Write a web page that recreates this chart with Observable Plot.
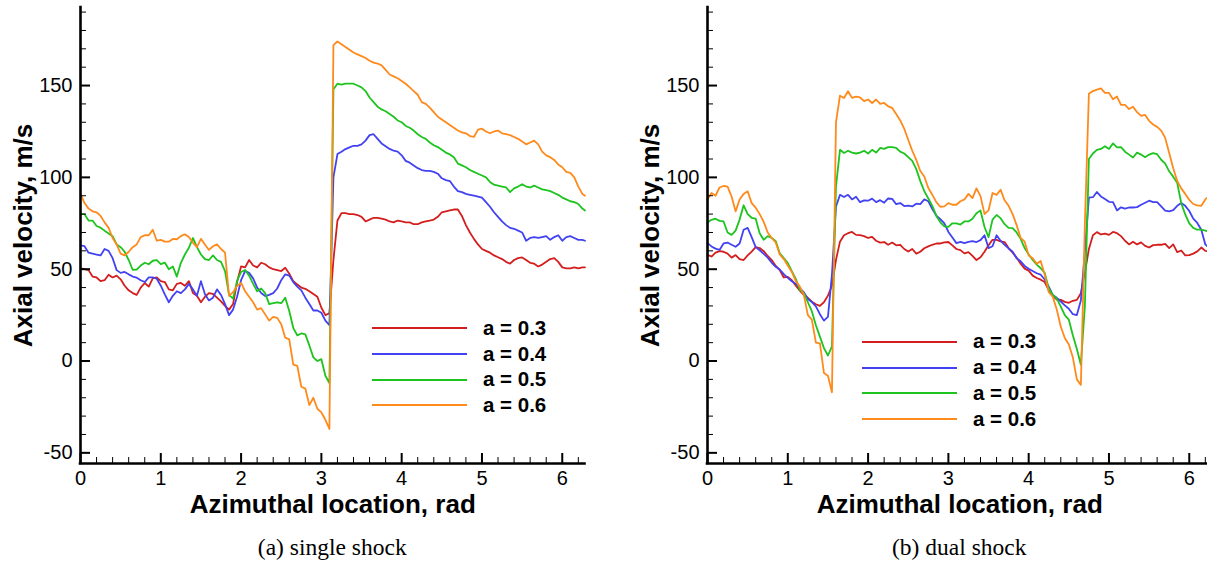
<!DOCTYPE html>
<html>
<head>
<meta charset="utf-8">
<script src="https://cdn.jsdelivr.net/npm/d3@7"></script>
<script src="https://cdn.jsdelivr.net/npm/@observablehq/plot@0.6"></script>
<style>
html, body { margin: 0; padding: 0; background: #fff; overflow: hidden; }
#wrap { position: relative; width: 1207px; height: 571px; overflow: hidden; background: #fff; }
.panel { position: absolute; top: 0; width: 600px; height: 571px; }
.panel svg { display: block; }
.leg-line { position: absolute; height: 0; }
.leg-text { position: absolute; font-family: "Liberation Sans", Arial, sans-serif; font-weight: bold; font-size: 20.5px; line-height: 1; white-space: nowrap; color: #000; }
.caption { position: absolute; font-family: "Liberation Serif", "Times New Roman", serif; font-size: 23.5px; line-height: 1; text-align: center; color: #000; white-space: nowrap; }
</style>
</head>
<body>
<div id="wrap"></div>
<script>
// ---------- data ----------
const seriesNames = ["a = 0.3", "a = 0.4", "a = 0.5", "a = 0.6"];
const seriesColors = ["#d41e1e", "#4242f2", "#1ec41e", "#ff8a1c"];
const panelCaptions = ["(a) single shock", "(b) dual shock"];
const xTitle = "Azimuthal location, rad";
const yTitle = "Axial velocity, m/s";

const xMajorTicks = [0, 1, 2, 3, 4, 5, 6];
const xMinorTicks = [0.2, 0.4, 0.6, 0.8, 1.2, 1.4, 1.6, 1.8, 2.2, 2.4, 2.6, 2.8, 3.2, 3.4, 3.6, 3.8, 4.2, 4.4, 4.6, 4.8, 5.2, 5.4, 5.6, 5.8, 6.2];
const yMajorTicks = [-50, 0, 50, 100, 150];
const yMinorTicks = [-40, -30, -20, -10, 10, 20, 30, 40, 60, 70, 80, 90, 110, 120, 130, 140, 160, 170, 180, 190];

const azimuth = [
  0, 0.05, 0.1, 0.15, 0.2, 0.25, 0.3, 0.35, 0.4, 0.45,
  0.5, 0.55, 0.6, 0.65, 0.7, 0.75, 0.8, 0.85, 0.9, 0.95,
  1, 1.05, 1.1, 1.15, 1.2, 1.25, 1.3, 1.35, 1.4, 1.45,
  1.5, 1.55, 1.6, 1.65, 1.7, 1.75, 1.8, 1.85, 1.9, 1.95,
  2, 2.05, 2.1, 2.15, 2.2, 2.25, 2.3, 2.35, 2.4, 2.45,
  2.5, 2.55, 2.6, 2.65, 2.7, 2.75, 2.8, 2.85, 2.9, 2.95,
  3, 3.05, 3.1, 3.15, 3.2, 3.25, 3.3, 3.35, 3.4, 3.45,
  3.5, 3.55, 3.6, 3.65, 3.7, 3.75, 3.8, 3.85, 3.9, 3.95,
  4, 4.05, 4.1, 4.15, 4.2, 4.25, 4.3, 4.35, 4.4, 4.45,
  4.5, 4.55, 4.6, 4.65, 4.7, 4.75, 4.8, 4.85, 4.9, 4.95,
  5, 5.05, 5.1, 5.15, 5.2, 5.25, 5.3, 5.35, 5.4, 5.45,
  5.5, 5.55, 5.6, 5.65, 5.7, 5.75, 5.8, 5.85, 5.9, 5.95,
  6, 6.05, 6.1, 6.15, 6.2, 6.25, 6.283
];

// (a) single shock
const singleA03 = [
  50.5, 50, 49.5, 46, 45.5, 43.5, 44, 47, 45.5, 46.5,
  44.5, 41, 38.5, 37, 36, 40, 42.5, 40.5, 45, 45.5,
  43.5, 43, 39, 38.5, 42, 42.5, 41, 43.5, 37, 35.5,
  32, 35, 37, 36.5, 34.5, 32.5, 30, 28, 31, 43,
  51.5, 51, 55, 52, 51, 53.5, 52.7, 51, 50, 49.5,
  49, 50.8, 47.5, 43.5, 41.7, 40, 39.3, 38, 36.5, 35,
  29, 25, 26, 55, 76.5, 80.5, 80.5, 80, 80, 79.5,
  78.5, 76, 77, 78, 78, 77.5, 77, 76, 75.5, 76.5,
  76, 75.5, 75.5, 74.5, 74.5, 75.5, 76, 76.5, 77, 78.5,
  81, 81.5, 82, 82.5, 82.5, 79, 74, 70, 66.5, 63.5,
  61, 60, 59, 57.5, 56.5, 55.5, 54, 53, 55, 56,
  56.4, 55, 53.5, 53, 51.5, 52.5, 54, 55.5, 56, 54,
  51, 50.5, 50.5, 51, 50.5, 51, 51
];
const singleA04 = [
  63, 62.5, 59, 58.5, 58, 57.5, 61, 60, 56, 49.5,
  48, 48.5, 47.2, 46, 45.4, 44, 43, 45.5, 45.5, 44.8,
  41, 36.3, 32, 35.5, 38, 37, 39, 42, 39, 35.5,
  43.5, 36.3, 33, 34.5, 39, 36, 31, 25, 28, 35,
  44, 49, 48, 45, 40, 37, 35.4, 36, 37, 39.5,
  44, 47.2, 46.5, 43, 40.5, 38.5, 34.5, 31, 27.5, 27.5,
  26.3, 22, 19.5, 100, 112.7, 114, 115.4, 116.3, 117.2, 117.2,
  118, 120, 123, 123.5, 121, 118.5, 117, 115.5, 114.5, 114,
  112, 109, 108, 106.5, 105, 104, 103.5, 103.5, 103, 102,
  99.5, 98.5, 98, 95, 92.5, 92, 91, 90.5, 90, 89.5,
  89, 86.5, 84, 81, 78.5, 76, 74, 72.5, 72, 71,
  70, 65.5, 67, 67.5, 67, 67.5, 68, 66, 67.5, 68.5,
  65.5, 67.5, 68, 67, 66, 66, 65.5
];
const singleA05 = [
  80, 80, 76.5, 76.5, 73.5, 72.6, 71, 69.5, 68, 63.5,
  62, 59.5, 55, 49.7, 49.8, 52, 53.5, 52.7, 54.6, 55,
  52.8, 53.6, 50, 51.5, 46, 53.5, 58, 61.7, 67, 62,
  58, 55.5, 55, 57.5, 55, 54, 49, 36, 34, 43.6,
  48.5, 49.6, 46.5, 42, 38, 39.5, 37, 31, 31.5, 32,
  31.5, 34.5, 27.2, 18, 14, 15, 14.5, 8.5, 2, 0,
  1, -8, -12, 148, 151, 150.5, 151, 151, 151, 150,
  149, 147, 143.5, 141, 138.5, 137, 136, 134.5, 133, 131,
  130, 128, 127, 125.5, 123.5, 122, 121, 119, 117.5, 116.5,
  115, 113.5, 112.5, 111, 107.5, 106.5, 105.5, 104, 103, 102,
  101, 100, 97.5, 96, 95.5, 95, 94.5, 92, 94, 95,
  96.3, 95, 94.5, 95.5, 94.5, 93.5, 93, 92.5, 91.5, 90.5,
  89, 88, 87, 86.5, 85.5, 83, 82
];
const singleA06 = [
  91, 86, 83, 81.5, 81, 79, 75.5, 72.5, 67, 63.5,
  58.5, 57.5, 59.5, 62, 63.5, 67.5, 68.5, 68.5, 71.5, 65.5,
  66, 65, 65, 66.5, 66.3, 68, 69, 67.5, 64.5, 62,
  66.5, 63.5, 60.5, 62.5, 63.5, 61, 59, 35.5, 37.5, 40.8,
  42.5, 38, 35, 32, 28, 28.8, 25.4, 22, 24, 23.5,
  20, 12.7, 11.8, -2, -2.7, -14, -15, -24, -20, -26,
  -28, -32, -37, 172, 174, 172.5, 171, 169.5, 168, 167,
  166, 165, 163.5, 162.5, 162, 161, 158.5, 156, 155, 154,
  152.5, 151, 149, 147, 145, 141, 140, 138, 135.5, 133,
  131.5, 130, 128.5, 127, 125.5, 124.5, 124, 122.5, 122, 126,
  126.5, 125, 124, 125, 125.5, 124, 123.5, 123, 122, 121,
  119.5, 118, 119, 120, 118, 114, 112, 111, 109.5, 107,
  105.5, 103, 102.5, 100, 95, 91, 90
];

// (b) dual shock
const dualA03 = [
  57.8, 56.9, 59, 59.8, 59.5, 58.5, 56.3, 57.7, 55.5, 55,
  57.5, 59.6, 62, 61.5, 59.8, 57.2, 55, 51.8, 49.5, 45.5,
  45.8, 44, 41, 38.3, 36, 34.4, 32.3, 30.9, 30, 32,
  35.6, 41, 55, 65, 68.5, 69.6, 70.3, 68.7, 68.5, 68,
  67, 67.6, 65.5, 64.5, 64.8, 63.3, 64.5, 63, 63.3, 61,
  59.6, 61, 58.5, 59.5, 61.4, 62.4, 63.3, 64, 64, 64.6,
  64.8, 63, 61, 60.4, 58.6, 59.3, 57.3, 55, 56.5, 59.5,
  63, 66, 66, 65.2, 64.8, 61.5, 59, 56.3, 53, 50.3,
  49.2, 46.5, 45.2, 44.3, 43, 38.5, 35.5, 33.5, 33.3, 32.2,
  31.7, 32.8, 33.3, 36.9, 48, 61, 68.5, 70.2, 68.9, 69.4,
  68.7, 70.3, 69.6, 68, 65.5, 63.5, 65, 63.5, 64.6, 62.7,
  61.8, 63.1, 63.3, 63.3, 63.8, 61.5, 63.5, 59.3, 60.2, 57.5,
  57.7, 58.5, 59.7, 61.8, 60, 59.6, 59.6
];
const dualA04 = [
  64.2, 62.4, 61.2, 60.5, 64, 64.5, 63.3, 62.2, 64, 71.5,
  72.5, 67.5, 62, 60.3, 58.3, 56.3, 53.5, 51.3, 49.8, 47.3,
  45.3, 43.4, 42.1, 39.6, 37.5, 33.8, 32.1, 29.8, 25.5, 22,
  24, 47, 84, 90.5, 89.3, 90.5, 88, 89.5, 86.5, 87.5,
  87.3, 88.4, 86.5, 87.6, 86.2, 88.5, 88.3, 85.4, 86, 84.4,
  84.6, 84.2, 85.7, 85.4, 88, 87, 82.7, 79.2, 77.2, 75,
  70.3, 67.3, 64.2, 64.9, 64.2, 64.9, 65.3, 64.8, 65.8, 68.5,
  61.5, 62.5, 68.5, 65.5, 63.3, 61.3, 59.5, 56, 54.3, 51.8,
  50.3, 49, 47.8, 47, 44.4, 40.5, 36, 34.4, 32.4, 30.3,
  28.5, 25.5, 25, 33, 60, 89, 89.2, 92, 89.6, 88.2,
  86.7, 86.5, 82, 83.7, 83, 83.6, 83.6, 83.8, 85.1, 86.2,
  87.3, 86.5, 86.5, 84.2, 81.9, 81.5, 82.2, 84.5, 86, 84.5,
  81.7, 77.5, 75.2, 71.5, 63.5, 61.5, 61
];
const dualA05 = [
  75.5, 76.9, 77.5, 76.3, 76, 70, 68.7, 71, 77, 84.8,
  80, 78, 77.5, 69.6, 66, 68, 67, 65.3, 58.7, 56,
  53.3, 48.9, 44.7, 38.7, 37, 32, 27, 19.5, 13.3, 7,
  3, 8, 95, 115, 113.3, 114.5, 113.5, 113, 113.5, 114.5,
  113, 115, 113.5, 116, 115.5, 116.5, 116.5, 116, 114, 113,
  111, 109, 104.5, 98, 92.5, 88.5, 84.5, 79, 75.5, 73.3,
  73, 75, 75, 74.3, 76, 76, 77.5, 80.5, 82, 73,
  67.5, 77, 79.5, 77.8, 74.5, 72.5, 72.4, 70, 66.5, 61.5,
  58, 55, 52.5, 50.5, 48, 39.5, 36, 34, 29.6, 25,
  22.5, 14, 6.5, -2, 30, 110, 113, 115, 115.5, 117,
  115.5, 118.5, 116.3, 116.5, 114, 112.4, 110.8, 113.5, 112.4, 111,
  112.4, 113.2, 112.6, 109.6, 107.5, 103.3, 100.4, 97, 86, 79.8,
  75, 72.5, 71.5, 71.5, 71, 70.5, 70
];
const dualA06 = [
  88, 91.5, 90, 94.5, 95.3, 95, 89.6, 81.5, 88, 91,
  92.4, 86, 83.5, 80, 75.8, 70, 67, 64.5, 58, 55.5,
  52, 48.5, 43.5, 40.5, 36, 25, 22.5, 10, 9.6, -6.5,
  -8, -17, 130, 144.5, 143.2, 146.9, 143.3, 144, 143.5, 141.5,
  142.4, 140.5, 142.4, 140, 140.5, 138.7, 137.8, 134.5, 131, 126.5,
  120.5, 114.5, 109.5, 103.5, 100.5, 94.2, 90.5, 86.5, 84, 84.2,
  86, 85.1, 85.1, 87, 88, 91, 88.7, 94, 89.8, 80,
  82, 91.5, 90.5, 93.3, 87.5, 84.5, 80, 74, 67, 65,
  57.5, 56, 53, 54.5, 47, 37.5, 35, 28, 18.7, 12.5,
  9, 2, -10, -13, 75, 145.5, 147, 147.8, 148.5, 146,
  146, 142.5, 144, 139.5, 139.5, 137.2, 138.5, 135.5, 133.5, 134,
  130.8, 128.8, 127.5, 125.5, 121.5, 113.3, 105, 98, 94, 91,
  87.8, 85.5, 84.8, 84.5, 88, 90, 91
];

// ---------- layout ----------
const W = 600, H = 525;
const mL = 80, mR = 15.5, mT = 7, mB = 62;
const plotW = W - mL - mR, plotH = H - mT - mB;
const yDomain = [-55.8, 192.5];
const xDomain = [0, 2 * Math.PI];

function buildRows(seriesValues) {
  const rows = [];
  seriesValues.forEach((vals, s) => {
    vals.forEach((v, i) => rows.push({az: azimuth[i], v, series: seriesNames[s]}));
  });
  return rows;
}

function makePlot(seriesValues) {
  const rows = buildRows(seriesValues);
  return Plot.plot({
    width: W, height: H,
    marginLeft: mL, marginRight: mR, marginTop: mT, marginBottom: mB,
    style: {fontFamily: "'Liberation Sans', Arial, sans-serif", fontSize: "20px", color: "#000", background: "#fff", overflow: "visible"},
    x: {domain: xDomain, ticks: xMajorTicks, tickSize: 0, tickPadding: 7, tickFormat: d => String(d), label: null},
    y: {domain: yDomain, ticks: yMajorTicks, tickSize: 0, tickPadding: 8, tickFormat: d => String(d), label: null},
    color: {domain: seriesNames, range: seriesColors},
    marks: [
      Plot.line(rows, {x: "az", y: "v", z: "series", stroke: "series", strokeWidth: 1.8, strokeLinejoin: "round"}),
      Plot.tickX(xMinorTicks, {x: d => d, insetTop: plotH - 6, stroke: "#000", strokeWidth: 1}),
      Plot.tickX(xMajorTicks, {x: d => d, insetTop: plotH - 10, stroke: "#000", strokeWidth: 2}),
      Plot.tickY(yMinorTicks, {y: d => d, insetRight: plotW - 6, stroke: "#000", strokeWidth: 1}),
      Plot.tickY(yMajorTicks, {y: d => d, insetRight: plotW - 10, stroke: "#000", strokeWidth: 2}),
      Plot.ruleX([xDomain[0]], {stroke: "#000", strokeWidth: 2.6, strokeLinecap: "square"}),
      Plot.ruleY([yDomain[0]], {stroke: "#000", strokeWidth: 2.6, strokeLinecap: "square"}),
      Plot.text([yTitle], {text: d => d, frameAnchor: "left", dx: -57, rotate: -90, textAnchor: "middle", lineAnchor: "middle", fontSize: 26, fontWeight: "bold", fill: "#000"}),
      Plot.text([xTitle], {text: d => d, frameAnchor: "bottom", dy: 41, textAnchor: "middle", lineAnchor: "middle", fontSize: 26, fontWeight: "bold", fill: "#000"})
    ]
  });
}

const panels = [
  {left: 0, values: [singleA03, singleA04, singleA05, singleA06], leg: {lineX: 372, textX: 483, y0: 328.3, dy: 25.6}},
  {left: 627, values: [dualA03, dualA04, dualA05, dualA06], leg: {lineX: 234.7, textX: 346, y0: 341.7, dy: 25.8}}
];

const wrap = document.getElementById("wrap");
panels.forEach((p, k) => {
  const div = document.createElement("div");
  div.className = "panel";
  div.style.left = p.left + "px";
  div.appendChild(makePlot(p.values));
  // legend
  seriesNames.forEach((name, i) => {
    const y = p.leg.y0 + i * p.leg.dy;
    const ln = document.createElement("div");
    ln.className = "leg-line";
    ln.style.left = p.leg.lineX + "px";
    ln.style.top = (y - 1) + "px";
    ln.style.width = "95px";
    ln.style.borderTop = "2px solid " + seriesColors[i];
    div.appendChild(ln);
    const tx = document.createElement("div");
    tx.className = "leg-text";
    tx.style.left = p.leg.textX + "px";
    tx.style.top = (y - 10.25) + "px";
    tx.textContent = name;
    div.appendChild(tx);
  });
  // caption
  const cap = document.createElement("div");
  cap.className = "caption";
  cap.style.left = mL + "px";
  cap.style.width = plotW + "px";
  cap.style.top = "536.3px";
  cap.textContent = panelCaptions[k];
  div.appendChild(cap);
  wrap.appendChild(div);
});
</script>
</body>
</html>
